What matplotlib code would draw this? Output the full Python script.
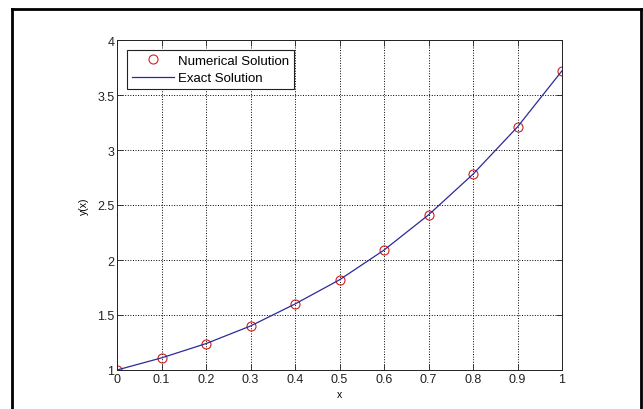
import matplotlib
matplotlib.use('Agg')
import matplotlib.pyplot as plt
from matplotlib.lines import Line2D

plt.rcParams['font.family'] = ['Liberation Sans', 'DejaVu Sans']

x = [0.0, 0.1, 0.2, 0.3, 0.4, 0.5, 0.6, 0.7, 0.8, 0.9, 1.0]
y_num = [1.0, 1.11, 1.24, 1.40, 1.60, 1.82, 2.09, 2.41, 2.78, 3.21, 3.72]
y_exact = [1.0, 1.11, 1.24, 1.40, 1.60, 1.82, 2.09, 2.41, 2.78, 3.21, 3.72]
xticks = [0, 0.1, 0.2, 0.3, 0.4, 0.5, 0.6, 0.7, 0.8, 0.9, 1]
yticks = [1, 1.5, 2, 2.5, 3, 3.5, 4]

fig = plt.figure(figsize=(6.43, 4.10), dpi=100)
ax = fig.add_axes([117 / 643, 1 - 371 / 410, 445 / 643, 330 / 410])

ax.plot(x, y_num, 'o', mfc='none', mec='#d02020', ms=6.5, mew=0.8,
        label='Numerical Solution')
ax.plot(x, y_exact, '-', color='#2a2a9a', lw=0.9, label='Exact Solution')

ax.set_xlim(0, 1)
ax.set_ylim(1, 4)
ax.set_xticks(xticks)
ax.set_yticks(yticks)
ax.set_xticklabels(['0', '0.1', '0.2', '0.3', '0.4', '0.5', '0.6', '0.7', '0.8', '0.9', '1'])
ax.set_yticklabels(['1', '1.5', '2', '2.5', '3', '3.5', '4'])
ax.tick_params(direction='in', top=True, right=True, labelsize=9, length=4,
               width=0.6, pad=2, colors='#222222')
ax.grid(True, linestyle=':', color='black', linewidth=0.7)
for s in ax.spines.values():
    s.set_linewidth(0.7)
    s.set_color('#222222')

ax.set_xlabel('x', fontsize=7.5, labelpad=3)
ax.set_ylabel('y(x)', fontsize=7.5, labelpad=6)

leg = ax.legend(loc='upper left', fontsize=9.5, fancybox=False, framealpha=1,
                edgecolor='#222222', borderaxespad=0.75, handlelength=3.2,
                borderpad=0.35, labelspacing=0.4, handletextpad=0.35)
leg.get_frame().set_linewidth(0.8)

# outer frame around the picture
lw = 2
fig.add_artist(Line2D([12 / 643, 12 / 643], [0, 1 - 10 / 410], color='black', lw=lw))
fig.add_artist(Line2D([12 / 643, 641 / 643], [1 - 10 / 410, 1 - 10 / 410], color='black', lw=lw))
fig.add_artist(Line2D([641 / 643, 641 / 643], [0, 1 - 10 / 410], color='black', lw=lw))

fig.savefig('out.png', dpi=100)
